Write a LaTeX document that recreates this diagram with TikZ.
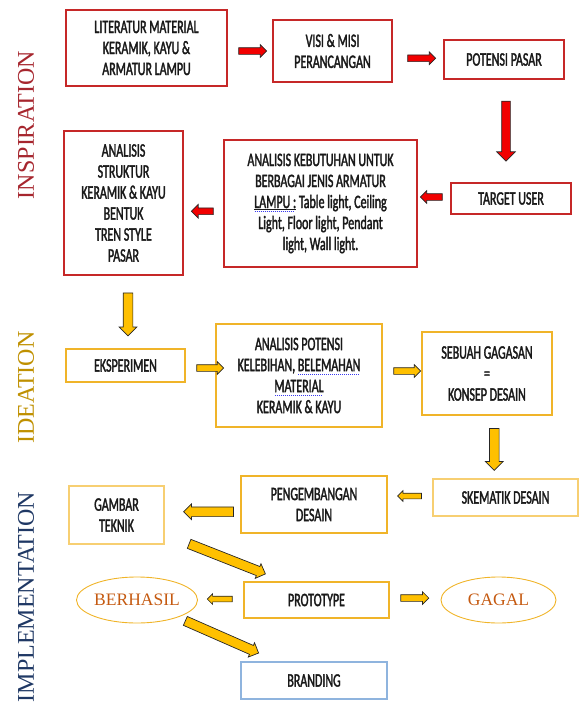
\documentclass[tikz,border=0pt]{standalone}
\usepackage{fontspec}
\setmainfont{Liberation Serif}
\newfontfamily\bxf[FakeStretch=0.63,FakeBold=1.8]{Carlito}
\usetikzlibrary{shapes.arrows,shapes.geometric,calc}
\definecolor{redline}{HTML}{C62828}
\definecolor{goldline}{HTML}{F0B429}
\definecolor{lightgold}{HTML}{F7CF72}
\definecolor{blueline}{HTML}{8FB4DE}
\definecolor{redfill}{HTML}{F20000}
\definecolor{yelfill}{HTML}{FFC000}
\definecolor{insp}{HTML}{A6262E}
\definecolor{idea}{HTML}{BF9000}
\definecolor{impl}{HTML}{1F3864}
\definecolor{outc}{HTML}{C55A11}
\definecolor{spellc}{HTML}{3A3AF0}
\newsavebox{\spellbox}
\newcommand{\spell}[1]{\leavevmode\sbox{\spellbox}{#1}\rlap{\color{spellc}\raisebox{-3.5pt}{\leaders\hbox to 2pt{\hss\rule{1.1pt}{0.7pt}\hss}\hskip\wd\spellbox}}\usebox{\spellbox}}
\tikzset{
  boxtxt/.style={font=\bxf\fontsize{19}{21}\selectfont, align=center, inner sep=0pt, text=black!90},
  redbox/.style={boxtxt, draw=redline, line width=1.2pt},
  goldbox/.style={boxtxt, draw=goldline, line width=1.2pt},
  lgoldbox/.style={boxtxt, draw=lightgold, line width=1.2pt},
  bluebox/.style={boxtxt, draw=blueline, line width=1.2pt},
  oval/.style={ellipse, draw=goldline, line width=0.9pt, inner sep=0pt, text=outc, font=\fontsize{17.5}{18}\selectfont},
  blk/.style 2 args={single arrow, draw=black!85, line width=0.7pt, minimum width=0pt, inner sep=#1, single arrow head extend=#2},
  redarr/.style={fill=redfill},
  yelarr/.style={fill=yelfill},
  side/.style={rotate=90, inner sep=0pt, font=\fontsize{24}{24}\selectfont}
}
\begin{document}
\begin{tikzpicture}[x=1pt,y=-1pt]
\useasboundingbox (0,0) rectangle (581,704);
% side labels
\node[side, text=insp] (lInsp) at (26,125) {INSPIRATION};
\node[side, text=idea] (lIdea) at (26,387.5) {IDEATION};
\node[side, text=impl] (lImpl) at (26,597) {IMPLEMENTATION};
% boxes
\node[redbox, minimum width=161pt, minimum height=76pt] (lit) at (146.5,48) {LITERATUR MATERIAL\\KERAMIK, KAYU \&\\ARMATUR LAMPU};
\node[redbox, minimum width=119pt, minimum height=62pt] (visi) at (332.5,51) {VISI \& MISI\\PERANCANGAN};
\node[redbox, minimum width=120pt, minimum height=39pt] (pot) at (504,59.5) {POTENSI PASAR};
\node[redbox, minimum width=120pt, minimum height=31pt] (tgt) at (511,198.5) {TARGET USER};
\node[redbox, minimum width=193pt, minimum height=127pt] (keb) at (320.5,203.5) {ANALISIS KEBUTUHAN UNTUK\\BERBAGAI JENIS ARMATUR\\\spell{\underline{LAMPU :}} Table light, Ceiling\\Light, Floor light, Pendant\\light, Wall light.};
\node[redbox, minimum width=119pt, minimum height=144pt] (str) at (123.5,203) {ANALISIS\\STRUKTUR\\KERAMIK \& KAYU\\BENTUK\\TREN STYLE\\PASAR};
\node[goldbox, minimum width=119pt, minimum height=33pt] (eks) at (125.5,365.5) {EKSPERIMEN};
\node[goldbox, minimum width=166pt, minimum height=103pt] (apot) at (299,375.5) {ANALISIS POTENSI\\KELEBIHAN, \spell{BELEMAHAN}\\\spell{MATERIAL}\\KERAMIK \& KAYU};
\node[goldbox, minimum width=130pt, minimum height=83pt] (gag) at (487,373.5) {SEBUAH GAGASAN\\=\\KONSEP DESAIN};
\node[lgoldbox, minimum width=145pt, minimum height=37pt] (skem) at (505.5,497.5) {SKEMATIK DESAIN};
\node[goldbox, minimum width=146pt, minimum height=57pt] (peng) at (314,504.5) {PENGEMBANGAN\\DESAIN};
\node[lgoldbox, minimum width=95pt, minimum height=58pt] (gam) at (116.5,515) {GAMBAR\\TEKNIK};
\node[goldbox, minimum width=145pt, minimum height=36pt] (proto) at (316.5,600) {PROTOTYPE};
\node[oval, minimum width=114pt, minimum height=46pt] (berh) at (137,600) {BERHASIL};
\node[oval, minimum width=115pt, minimum height=46pt] (gagal) at (498.5,600) {GAGAL};
\node[bluebox, minimum width=146pt, minimum height=37pt] (brand) at (314,680.5) {BRANDING};
% red block arrows
\node[blk={3pt}{3pt}, redarr, minimum height=28pt] (a1) at ($(lit.east)!0.5!(visi.west)+(1,1.5)$) {};
\node[blk={3pt}{3pt}, redarr, minimum height=28pt] (a2) at ($(visi.east)!0.5!(pot.west)+(2,3)$) {};
\node[blk={4pt}{5pt}, redarr, minimum height=60pt, rotate=-90] (a3) at ($(pot.south)!0.5!(tgt.north)+(-1.5,-2)$) {};
\node[blk={3pt}{3pt}, redarr, minimum height=22pt, rotate=180] (a4) at ($(tgt.west)!0.5!(keb.east)+(-1,-4)$) {};
\node[blk={3pt}{3.5pt}, redarr, minimum height=22pt, rotate=180] (a5) at ($(keb.west)!0.5!(str.east)+(0.5,8)$) {};
% yellow block arrows
\node[blk={4.5pt}{4pt}, yelarr, minimum height=43pt, rotate=-90] (a6) at ($(str.south)!0.5!(eks.north)+(3.5,0)$) {};
\node[blk={3pt}{3pt}, yelarr, minimum height=27pt] (a7) at ($(eks.east)!0.5!(apot.west)+(8,-2.5)$) {};
\node[blk={3pt}{3pt}, yelarr, minimum height=27pt] (a8) at ($(apot.east)!0.5!(gag.west)+(3.5,-3.5)$) {};
\node[blk={4.5pt}{4pt}, yelarr, minimum height=42pt, rotate=-90] (a9) at ($(gag.south)!0.5!(skem.north)+(-2,0)$) {};
\node[blk={2.5pt}{2.5pt}, yelarr, minimum height=24pt, rotate=180] (a10) at ($(skem.west)!0.5!(peng.east)+(1,-5)$) {};
\node[blk={4.5pt}{3pt}, yelarr, minimum height=50pt, rotate=180] (a11) at ($(peng.west)!0.5!(gam.east)+(8.5,2)$) {};
\node[blk={4.5pt}{3pt}, yelarr, minimum height=82pt, rotate=-21.5] (a12) at ($(gam.south east)!0.5!(proto.north west)+(21,-5)$) {};
\node[blk={2.5pt}{2.5pt}, yelarr, minimum height=25pt, rotate=180] (a13) at ($(proto.west)!0.5!(berh.east)+(0.5,-1)$) {};
\node[blk={3pt}{3pt}, yelarr, minimum height=28pt] (a14) at ($(proto.east)!0.5!(gagal.west)+(-2,-2)$) {};
\node[blk={4.5pt}{3pt}, yelarr, minimum height=80pt, rotate=-23.7] (a15) at ($(berh.south east)!0.5!(brand.north west)+(9.5,-3)$) {};
\end{tikzpicture}
\end{document}
